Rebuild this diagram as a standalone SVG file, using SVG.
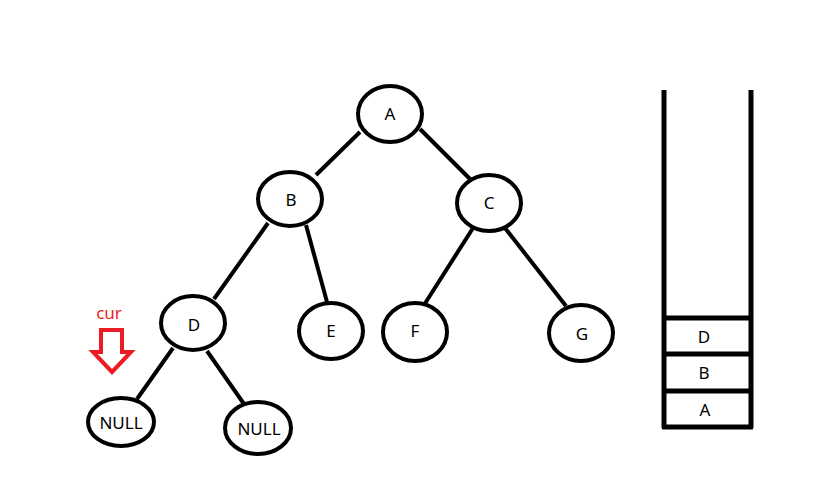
<svg xmlns="http://www.w3.org/2000/svg" width="815" height="502" viewBox="0 0 815 502">
<style>
.n ellipse{fill:#fff;stroke:#000;stroke-width:4}
.t{font-family:"Noto Sans","Liberation Sans",sans-serif;font-size:17px;fill:#000;text-anchor:middle;dominant-baseline:central}
.e line{stroke:#000;stroke-width:4}
.s{stroke:#000;stroke-width:5;fill:none}
</style>
<rect width="815" height="502" fill="#fff"/>
<g class="e" id="connectors">
<line x1="360" y1="132" x2="316" y2="175"/>
<line x1="420" y1="129" x2="472" y2="181"/>
<line x1="268" y1="223" x2="214" y2="299"/>
<line x1="306" y1="225" x2="327" y2="302"/>
<line x1="473" y1="228" x2="424" y2="305"/>
<line x1="505" y1="228" x2="566" y2="306"/>
<line x1="173" y1="348" x2="137" y2="399"/>
<line x1="207" y1="351" x2="244" y2="404"/>
</g>
<g class="n" id="node-A"><ellipse cx="390" cy="114" rx="32" ry="28"/><text class="t" x="390" y="113">A</text></g>
<g class="n" id="node-B"><ellipse cx="290" cy="199" rx="32" ry="27"/><text class="t" x="291" y="199">B</text></g>
<g class="n" id="node-C"><ellipse cx="489" cy="203" rx="32" ry="28"/><text class="t" x="489" y="202">C</text></g>
<g class="n" id="node-D"><ellipse cx="193" cy="323" rx="32" ry="27"/><text class="t" x="194" y="324">D</text></g>
<g class="n" id="node-E"><ellipse cx="331" cy="331" rx="32" ry="28"/><text class="t" x="331" y="330">E</text></g>
<g class="n" id="node-F"><ellipse cx="415" cy="332" rx="32" ry="29"/><text class="t" x="415" y="330">F</text></g>
<g class="n" id="node-G"><ellipse cx="581" cy="333" rx="32" ry="28"/><text class="t" x="582" y="333">G</text></g>
<g class="n" id="node-null1"><ellipse cx="121" cy="422" rx="33" ry="24"/><text class="t" x="121" y="422">NULL</text></g>
<g class="n" id="node-null2"><ellipse cx="258" cy="428" rx="33" ry="26"/><text class="t" x="259" y="428">NULL</text></g>
<g id="cur-pointer">
<text x="109" y="312" style="font-family:'Noto Sans','Liberation Sans',sans-serif;font-size:17px;fill:#ed1c24;text-anchor:middle;dominant-baseline:central">cur</text>
<polygon points="101,330 122,330 122,352 131,352 112,372 93,352 101,352" fill="none" stroke="#ed1c24" stroke-width="4" stroke-linejoin="miter"/>
</g>
<g id="stack">
<line class="s" x1="664" y1="90" x2="664" y2="428"/>
<line class="s" x1="751" y1="90" x2="751" y2="428"/>
<line class="s" x1="662" y1="318" x2="753" y2="318"/>
<line class="s" x1="662" y1="354" x2="753" y2="354"/>
<line class="s" x1="662" y1="391" x2="753" y2="391"/>
<line class="s" x1="662" y1="427" x2="753" y2="427"/>
<text class="t" x="704" y="336">D</text>
<text class="t" x="704" y="372">B</text>
<text class="t" x="705" y="409">A</text>
</g>
</svg>
